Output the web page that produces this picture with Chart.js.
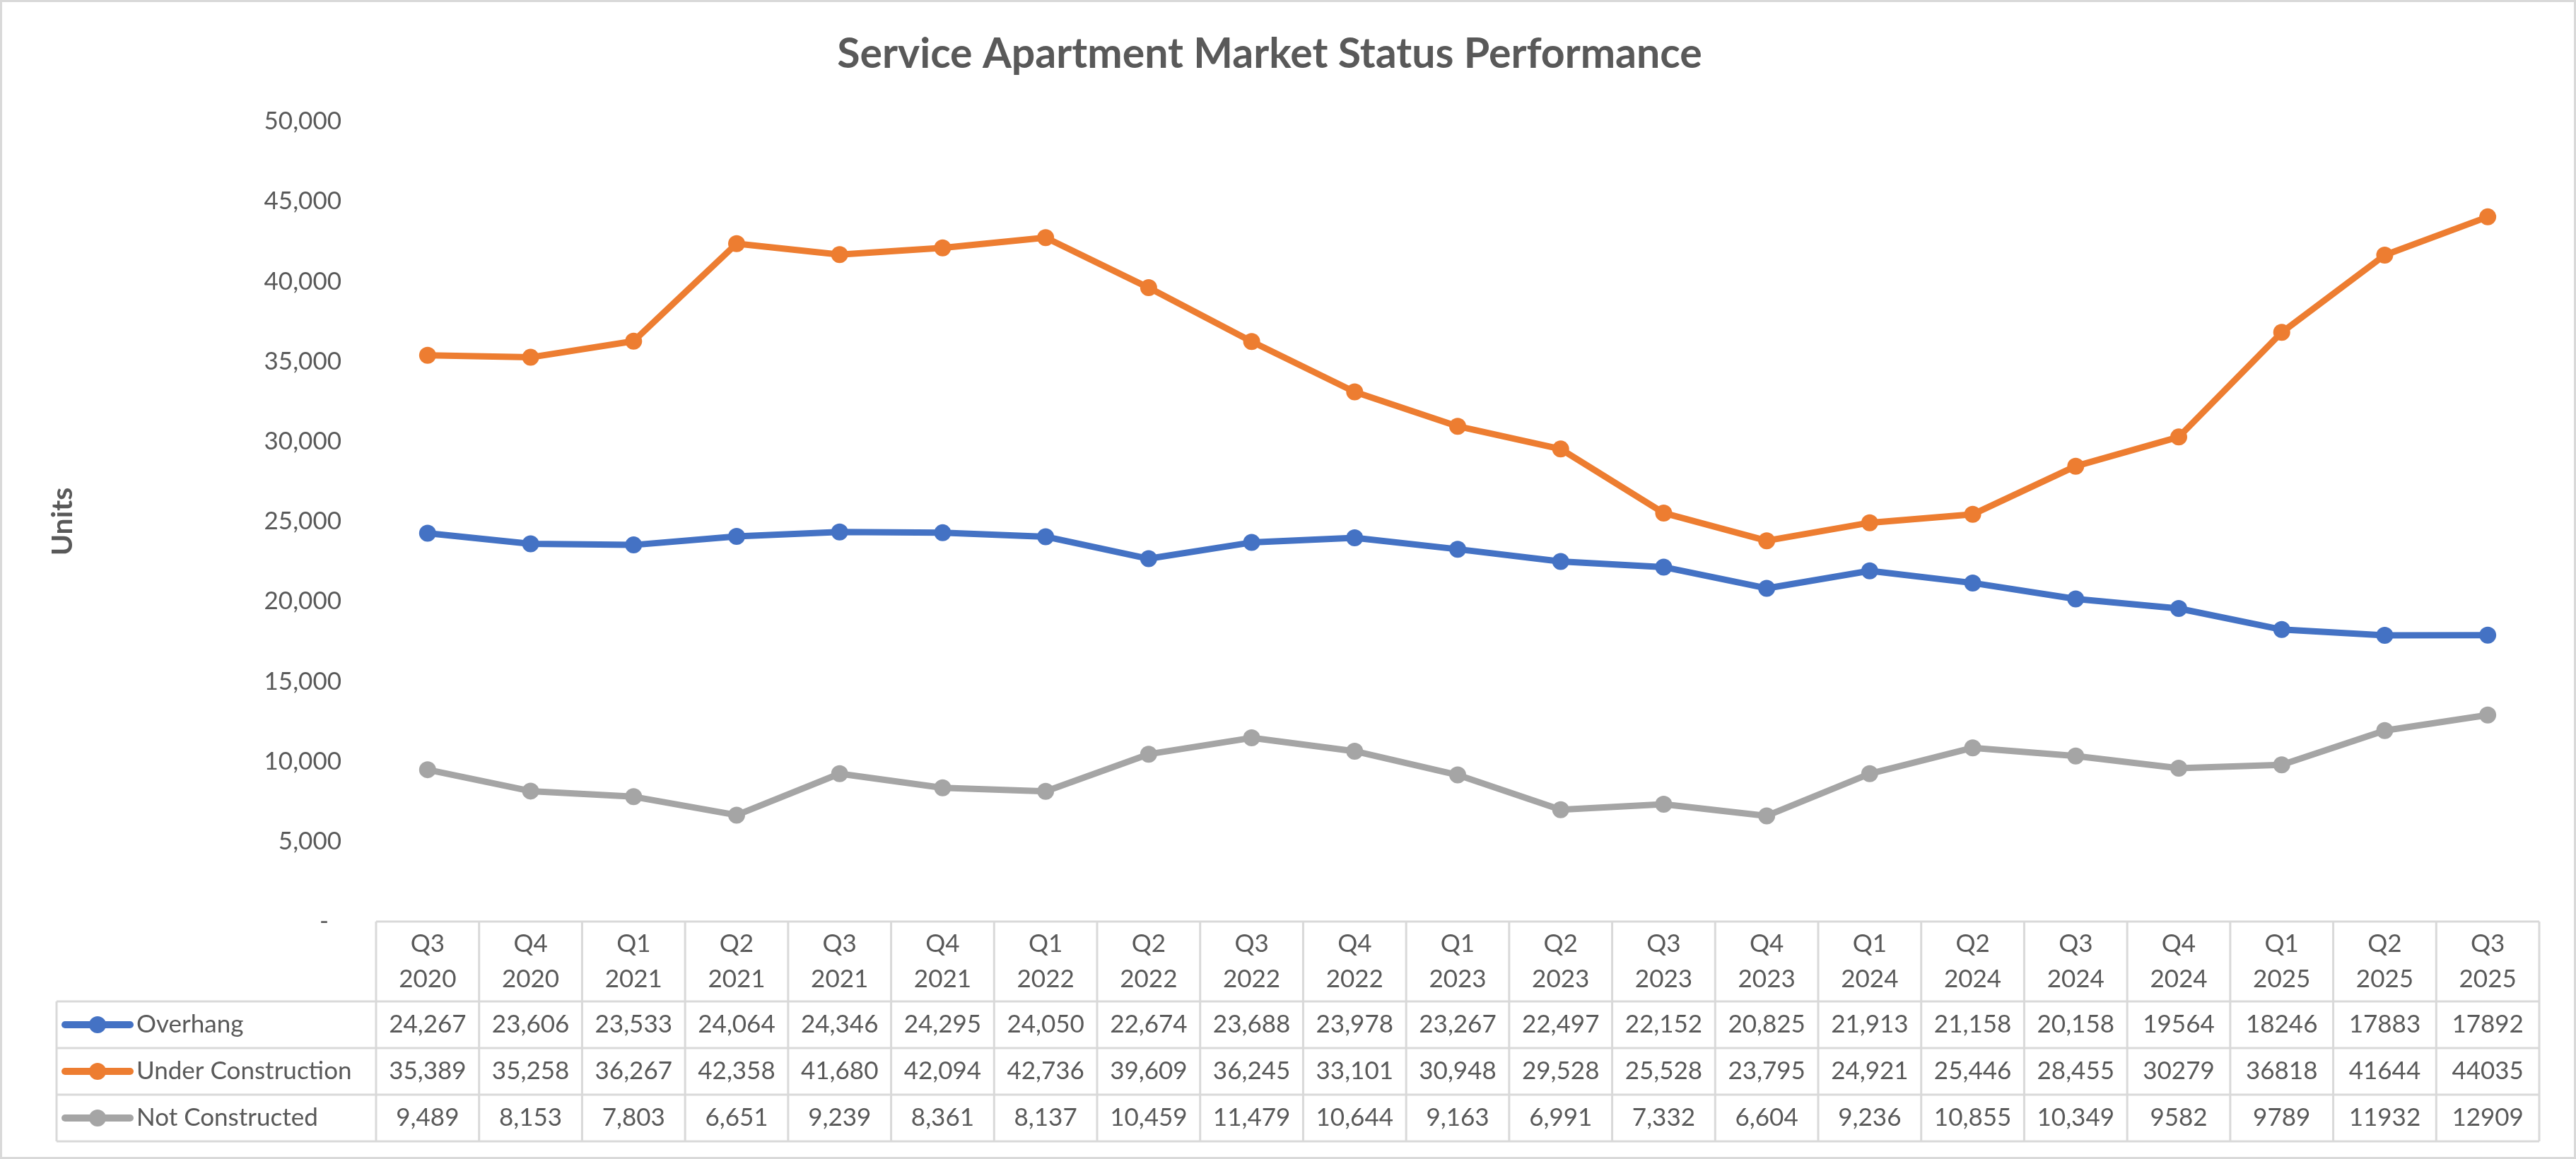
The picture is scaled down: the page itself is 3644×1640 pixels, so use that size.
<!DOCTYPE html>
<html>
<head>
<meta charset="utf-8">
<script src="https://cdn.jsdelivr.net/npm/chart.js@4.4.1/dist/chart.umd.min.js"></script>
<style>
  body { margin: 0; background: #ffffff; }
  canvas { display: block; }
</style>
</head>
<body>
<canvas id="chart" width="3644" height="1640"></canvas>
<script>
var quarters = ['Q3', 'Q4', 'Q1', 'Q2', 'Q3', 'Q4', 'Q1', 'Q2', 'Q3', 'Q4', 'Q1', 'Q2', 'Q3', 'Q4', 'Q1', 'Q2', 'Q3', 'Q4', 'Q1', 'Q2', 'Q3'];
var years = ['2020', '2020', '2021', '2021', '2021', '2021', '2022', '2022', '2022', '2022', '2023', '2023', '2023', '2023', '2024', '2024', '2024', '2024', '2025', '2025', '2025'];

var overhang = [24267, 23606, 23533, 24064, 24346, 24295, 24050, 22674, 23688, 23978, 23267, 22497, 22152, 20825, 21913, 21158, 20158, 19564, 18246, 17883, 17892];
var underConstruction = [35389, 35258, 36267, 42358, 41680, 42094, 42736, 39609, 36245, 33101, 30948, 29528, 25528, 23795, 24921, 25446, 28455, 30279, 36818, 41644, 44035];
var notConstructed = [9489, 8153, 7803, 6651, 9239, 8361, 8137, 10459, 11479, 10644, 9163, 6991, 7332, 6604, 9236, 10855, 10349, 9582, 9789, 11932, 12909];

// the source table stops using thousands separators from this column on
var plainFrom = 17;

var yTicks = [0, 5000, 10000, 15000, 20000, 25000, 30000, 35000, 40000, 45000, 50000];

var textColor = '#595959';
var lineColor = '#d9d9d9';
var fontFamily = 'Lato, "Open Sans", sans-serif';

function formatCell(value, index) {
    if (index >= plainFrom) {
        return String(value);
    }
    return value.toLocaleString('en-US');
}

var tablePlugin = {
    id: 'dataTable',
    beforeDraw: function(chart) {
        var ctx = chart.ctx;
        ctx.save();
        ctx.fillStyle = '#ffffff';
        ctx.fillRect(0, 0, chart.width, chart.height);
        ctx.restore();
    },
    afterDraw: function(chart) {
        var ctx = chart.ctx;
        var xs = chart.scales.x;
        var area = chart.chartArea;
        var colW = xs.getPixelForValue(1) - xs.getPixelForValue(0);
        var colLeft = area.left;
        var right = area.right;
        var tableLeft = 80;
        var headTop = area.bottom;
        var headH = 113;
        var rowH = 66;
        var bottom = headTop + headH + rowH * chart.data.datasets.length;
        var i, j;

        ctx.save();
        ctx.strokeStyle = lineColor;
        ctx.lineWidth = 3;
        ctx.beginPath();
        ctx.moveTo(colLeft, headTop);
        ctx.lineTo(right, headTop);
        for (i = 0; i <= chart.data.datasets.length; i++) {
            ctx.moveTo(tableLeft, headTop + headH + rowH * i);
            ctx.lineTo(right, headTop + headH + rowH * i);
        }
        for (i = 0; i <= quarters.length; i++) {
            var vx = colLeft + colW * i;
            ctx.moveTo(vx, headTop);
            ctx.lineTo(vx, bottom);
        }
        ctx.moveTo(tableLeft, headTop + headH);
        ctx.lineTo(tableLeft, bottom);
        ctx.stroke();

        // outer chart border
        ctx.strokeRect(1.5, 1.5, chart.width - 3, chart.height - 3);

        ctx.fillStyle = textColor;
        ctx.font = '35px ' + fontFamily;
        ctx.textAlign = 'center';
        ctx.textBaseline = 'middle';
        for (i = 0; i < quarters.length; i++) {
            var cx = xs.getPixelForValue(i);
            ctx.fillText(quarters[i], cx, headTop + 32);
            ctx.fillText(years[i], cx, headTop + 82);
        }

        chart.data.datasets.forEach(function(ds, r) {
            var cy = headTop + headH + rowH * r + rowH / 2;
            ctx.textAlign = 'center';
            ctx.fillStyle = textColor;
            for (j = 0; j < ds.data.length; j++) {
                ctx.fillText(formatCell(ds.data[j], j), xs.getPixelForValue(j), cy);
            }

            ctx.strokeStyle = ds.borderColor;
            ctx.lineWidth = 10;
            ctx.lineCap = 'round';
            ctx.beginPath();
            ctx.moveTo(92, cy);
            ctx.lineTo(184, cy);
            ctx.stroke();
            ctx.fillStyle = ds.borderColor;
            ctx.beginPath();
            ctx.arc(138, cy, 12, 0, Math.PI * 2);
            ctx.fill();

            ctx.fillStyle = textColor;
            ctx.textAlign = 'left';
            ctx.fillText(ds.label, 193, cy);
        });
        ctx.restore();
    }
};

function makeSeries(label, data, color) {
    return {
        label: label,
        data: data,
        borderColor: color,
        backgroundColor: color,
        borderWidth: 9,
        borderJoinStyle: 'round',
        borderCapStyle: 'round',
        pointRadius: 12,
        pointBorderWidth: 0,
        pointBackgroundColor: color,
        tension: 0,
        fill: false
    };
}

var labels = quarters.map(function(q, i) { return q + ' ' + years[i]; });

var myChart = new Chart(document.getElementById('chart'), {
    type: 'line',
    data: {
        labels: labels,
        datasets: [
            makeSeries('Overhang', overhang, '#4472c4'),
            makeSeries('Under Construction', underConstruction, '#ed7d31'),
            makeSeries('Not Constructed', notConstructed, '#a5a5a5')
        ]
    },
    options: {
        responsive: false,
        devicePixelRatio: 1,
        animation: false,
        layout: {
            padding: { top: 0, left: 0, right: 52, bottom: 336 }
        },
        plugins: {
            legend: { display: false },
            tooltip: { enabled: false },
            title: {
                display: true,
                text: 'Service Apartment Market Status Performance',
                color: textColor,
                font: { family: fontFamily, size: 59, weight: 'bold' },
                padding: { top: 42, bottom: 59 }
            }
        },
        scales: {
            x: {
                display: false,
                offset: true
            },
            y: {
                min: 0,
                max: 50000,
                afterFit: function(scale) { scale.width = 532; },
                afterBuildTicks: function(scale) {
                    scale.ticks = yTicks.map(function(v) { return { value: v }; });
                },
                grid: { display: false, drawTicks: false },
                border: { display: false },
                ticks: {
                    padding: 49,
                    color: textColor,
                    font: { family: fontFamily, size: 35 },
                    callback: function(value) {
                        return value === 0 ? '-  ' : value.toLocaleString('en-US');
                    }
                },
                title: {
                    display: true,
                    text: 'Units',
                    color: textColor,
                    font: { family: fontFamily, size: 41, weight: 'bold' },
                    padding: { top: 64, bottom: 0 }
                }
            }
        }
    },
    plugins: [tablePlugin]
});
</script>
</body>
</html>
